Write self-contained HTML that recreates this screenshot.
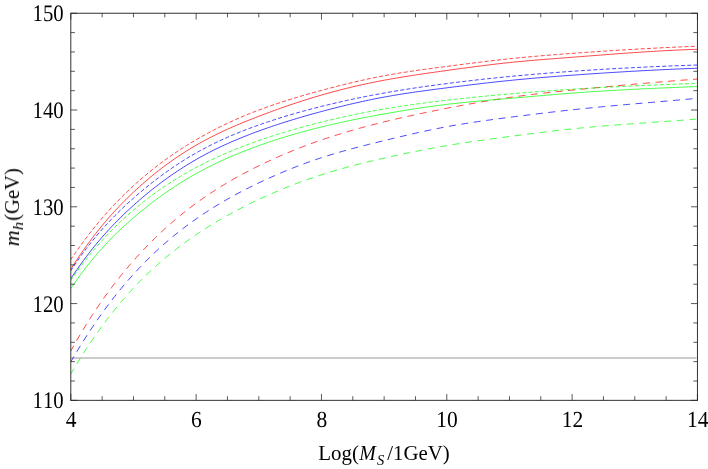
<!DOCTYPE html>
<html><head><meta charset="utf-8"><title>plot</title>
<style>
html,body{margin:0;padding:0;background:#fff;}
body{width:708px;height:469px;overflow:hidden;font-family:"Liberation Serif",serif;}
svg{display:block;}
text{font-family:"Liberation Serif",serif;font-size:21.5px;fill:#000;font-kerning:none;}
.it{font-style:italic;}
</style></head><body>
<svg width="708" height="469" viewBox="0 0 708 469">
<rect x="0" y="0" width="708" height="469" fill="#ffffff"/>
<defs><clipPath id="c"><rect x="70.8" y="13.25" width="626.6500000000001" height="387.1"/></clipPath></defs>
<line x1="70.8" y1="357.9" x2="696.45" y2="357.9" stroke="#999999" stroke-width="1.05"/>
<g fill="none" stroke-width="0.72" clip-path="url(#c)">
<path d="M70.80 373.90 L73.93 368.63 L77.07 363.47 L80.20 358.42 L83.33 353.48 L86.47 348.65 L89.60 343.92 L92.73 339.30 L95.87 334.78 L99.00 330.36 L102.13 326.04 L105.27 321.82 L108.40 317.70 L111.53 313.67 L114.67 309.74 L117.80 305.90 L120.93 302.15 L124.07 298.49 L127.20 294.92 L130.33 291.43 L133.47 288.03 L136.60 284.72 L139.73 281.48 L142.86 278.33 L146.00 275.25 L149.13 272.25 L152.26 269.32 L155.40 266.46 L158.53 263.67 L161.66 260.94 L164.80 258.28 L167.93 255.69 L171.06 253.15 L174.20 250.67 L177.33 248.24 L180.46 245.87 L183.60 243.55 L186.73 241.28 L189.86 239.06 L193.00 236.88 L196.13 234.74 L199.26 232.65 L202.40 230.59 L205.53 228.57 L208.66 226.59 L211.80 224.65 L214.93 222.75 L218.06 220.88 L221.20 219.04 L224.33 217.24 L227.46 215.47 L230.60 213.74 L233.73 212.03 L236.86 210.36 L240.00 208.71 L243.13 207.10 L246.26 205.51 L249.40 203.96 L252.53 202.42 L255.66 200.92 L258.80 199.44 L261.93 197.98 L265.06 196.55 L268.19 195.14 L271.33 193.75 L274.46 192.39 L277.59 191.06 L280.73 189.74 L283.86 188.45 L286.99 187.19 L290.13 185.94 L293.26 184.72 L296.39 183.53 L299.53 182.35 L302.66 181.20 L305.79 180.07 L308.93 178.97 L312.06 177.89 L315.19 176.83 L318.33 175.79 L321.46 174.77 L324.59 173.78 L327.73 172.81 L330.86 171.86 L333.99 170.92 L337.13 170.01 L340.26 169.12 L343.39 168.24 L346.53 167.38 L349.66 166.54 L352.79 165.71 L355.93 164.90 L359.06 164.10 L362.19 163.32 L365.33 162.54 L368.46 161.78 L371.59 161.03 L374.73 160.29 L377.86 159.56 L380.99 158.84 L384.13 158.12 L387.26 157.41 L390.39 156.72 L393.52 156.02 L396.66 155.34 L399.79 154.66 L402.92 154.00 L406.06 153.34 L409.19 152.69 L412.32 152.04 L415.46 151.41 L418.59 150.79 L421.72 150.17 L424.86 149.56 L427.99 148.97 L431.12 148.38 L434.26 147.81 L437.39 147.24 L440.52 146.68 L443.66 146.14 L446.79 145.61 L449.92 145.08 L453.06 144.57 L456.19 144.07 L459.32 143.57 L462.46 143.09 L465.59 142.61 L468.72 142.14 L471.86 141.68 L474.99 141.23 L478.12 140.78 L481.26 140.33 L484.39 139.90 L487.52 139.47 L490.66 139.04 L493.79 138.61 L496.92 138.19 L500.06 137.77 L503.19 137.36 L506.32 136.94 L509.46 136.53 L512.59 136.12 L515.72 135.71 L518.85 135.30 L521.99 134.89 L525.12 134.48 L528.25 134.08 L531.39 133.68 L534.52 133.28 L537.65 132.89 L540.79 132.50 L543.92 132.11 L547.05 131.73 L550.19 131.36 L553.32 130.99 L556.45 130.62 L559.59 130.26 L562.72 129.91 L565.85 129.57 L568.99 129.23 L572.12 128.90 L575.25 128.58 L578.39 128.26 L581.52 127.95 L584.65 127.66 L587.79 127.36 L590.92 127.08 L594.05 126.80 L597.19 126.52 L600.32 126.25 L603.45 125.99 L606.59 125.73 L609.72 125.48 L612.85 125.23 L615.99 124.99 L619.12 124.74 L622.25 124.51 L625.39 124.27 L628.52 124.04 L631.65 123.81 L634.78 123.59 L637.92 123.36 L641.05 123.14 L644.18 122.92 L647.32 122.70 L650.45 122.48 L653.58 122.26 L656.72 122.04 L659.85 121.82 L662.98 121.60 L666.12 121.38 L669.25 121.16 L672.38 120.93 L675.52 120.71 L678.65 120.48 L681.78 120.25 L684.92 120.02 L688.05 119.79 L691.18 119.55 L694.32 119.31 L697.45 119.06" stroke="#00ff00" stroke-dasharray="7.0 5.536" stroke-dashoffset="0.9"/>
<path d="M70.80 361.80 L73.93 356.44 L77.07 351.20 L80.20 346.07 L83.33 341.05 L86.47 336.14 L89.60 331.33 L92.73 326.63 L95.87 322.04 L99.00 317.54 L102.13 313.15 L105.27 308.85 L108.40 304.65 L111.53 300.54 L114.67 296.52 L117.80 292.60 L120.93 288.77 L124.07 285.02 L127.20 281.35 L130.33 277.78 L133.47 274.28 L136.60 270.86 L139.73 267.52 L142.86 264.26 L146.00 261.08 L149.13 257.96 L152.26 254.92 L155.40 251.95 L158.53 249.05 L161.66 246.21 L164.80 243.44 L167.93 240.73 L171.06 238.08 L174.20 235.50 L177.33 232.97 L180.46 230.50 L183.60 228.08 L186.73 225.72 L189.86 223.41 L193.00 221.14 L196.13 218.93 L199.26 216.76 L202.40 214.64 L205.53 212.56 L208.66 210.53 L211.80 208.53 L214.93 206.58 L218.06 204.67 L221.20 202.79 L224.33 200.95 L227.46 199.15 L230.60 197.39 L233.73 195.65 L236.86 193.95 L240.00 192.28 L243.13 190.65 L246.26 189.04 L249.40 187.46 L252.53 185.90 L255.66 184.37 L258.80 182.87 L261.93 181.39 L265.06 179.93 L268.19 178.49 L271.33 177.08 L274.46 175.70 L277.59 174.33 L280.73 172.99 L283.86 171.67 L286.99 170.38 L290.13 169.11 L293.26 167.86 L296.39 166.64 L299.53 165.44 L302.66 164.27 L305.79 163.11 L308.93 161.99 L312.06 160.88 L315.19 159.80 L318.33 158.74 L321.46 157.71 L324.59 156.70 L327.73 155.71 L330.86 154.75 L333.99 153.80 L337.13 152.88 L340.26 151.97 L343.39 151.08 L346.53 150.21 L349.66 149.35 L352.79 148.51 L355.93 147.67 L359.06 146.86 L362.19 146.05 L365.33 145.25 L368.46 144.46 L371.59 143.68 L374.73 142.90 L377.86 142.13 L380.99 141.36 L384.13 140.60 L387.26 139.84 L390.39 139.08 L393.52 138.33 L396.66 137.58 L399.79 136.83 L402.92 136.10 L406.06 135.36 L409.19 134.64 L412.32 133.92 L415.46 133.21 L418.59 132.51 L421.72 131.82 L424.86 131.14 L427.99 130.47 L431.12 129.81 L434.26 129.17 L437.39 128.54 L440.52 127.92 L443.66 127.32 L446.79 126.73 L449.92 126.16 L453.06 125.60 L456.19 125.06 L459.32 124.53 L462.46 124.01 L465.59 123.51 L468.72 123.01 L471.86 122.53 L474.99 122.06 L478.12 121.60 L481.26 121.15 L484.39 120.70 L487.52 120.26 L490.66 119.83 L493.79 119.41 L496.92 118.99 L500.06 118.58 L503.19 118.16 L506.32 117.76 L509.46 117.35 L512.59 116.95 L515.72 116.54 L518.85 116.14 L521.99 115.75 L525.12 115.35 L528.25 114.96 L531.39 114.57 L534.52 114.18 L537.65 113.79 L540.79 113.41 L543.92 113.03 L547.05 112.66 L550.19 112.29 L553.32 111.92 L556.45 111.56 L559.59 111.20 L562.72 110.84 L565.85 110.49 L568.99 110.15 L572.12 109.81 L575.25 109.47 L578.39 109.14 L581.52 108.82 L584.65 108.50 L587.79 108.18 L590.92 107.87 L594.05 107.56 L597.19 107.25 L600.32 106.95 L603.45 106.65 L606.59 106.36 L609.72 106.07 L612.85 105.78 L615.99 105.49 L619.12 105.21 L622.25 104.93 L625.39 104.65 L628.52 104.37 L631.65 104.09 L634.78 103.82 L637.92 103.55 L641.05 103.27 L644.18 103.00 L647.32 102.73 L650.45 102.46 L653.58 102.19 L656.72 101.92 L659.85 101.65 L662.98 101.38 L666.12 101.11 L669.25 100.84 L672.38 100.56 L675.52 100.29 L678.65 100.02 L681.78 99.74 L684.92 99.46 L688.05 99.18 L691.18 98.90 L694.32 98.62 L697.45 98.33" stroke="#0000ff" stroke-dasharray="7.0 5.536" stroke-dashoffset="0.9"/>
<path d="M70.80 350.96 L73.93 345.35 L77.07 339.88 L80.20 334.53 L83.33 329.32 L86.47 324.22 L89.60 319.25 L92.73 314.40 L95.87 309.66 L99.00 305.04 L102.13 300.52 L105.27 296.11 L108.40 291.81 L111.53 287.60 L114.67 283.49 L117.80 279.48 L120.93 275.56 L124.07 271.72 L127.20 267.98 L130.33 264.31 L133.47 260.72 L136.60 257.22 L139.73 253.78 L142.86 250.42 L146.00 247.13 L149.13 243.91 L152.26 240.76 L155.40 237.68 L158.53 234.67 L161.66 231.72 L164.80 228.84 L167.93 226.02 L171.06 223.26 L174.20 220.56 L177.33 217.92 L180.46 215.34 L183.60 212.81 L186.73 210.34 L189.86 207.92 L193.00 205.56 L196.13 203.24 L199.26 200.98 L202.40 198.76 L205.53 196.59 L208.66 194.47 L211.80 192.39 L214.93 190.36 L218.06 188.37 L221.20 186.42 L224.33 184.51 L227.46 182.63 L230.60 180.80 L233.73 179.00 L236.86 177.24 L240.00 175.52 L243.13 173.82 L246.26 172.16 L249.40 170.53 L252.53 168.93 L255.66 167.36 L258.80 165.81 L261.93 164.29 L265.06 162.80 L268.19 161.33 L271.33 159.89 L274.46 158.47 L277.59 157.08 L280.73 155.71 L283.86 154.36 L286.99 153.04 L290.13 151.74 L293.26 150.47 L296.39 149.21 L299.53 147.98 L302.66 146.78 L305.79 145.59 L308.93 144.42 L312.06 143.28 L315.19 142.16 L318.33 141.05 L321.46 139.97 L324.59 138.91 L327.73 137.87 L330.86 136.84 L333.99 135.84 L337.13 134.85 L340.26 133.88 L343.39 132.92 L346.53 131.99 L349.66 131.07 L352.79 130.16 L355.93 129.27 L359.06 128.40 L362.19 127.54 L365.33 126.69 L368.46 125.86 L371.59 125.04 L374.73 124.23 L377.86 123.44 L380.99 122.65 L384.13 121.88 L387.26 121.12 L390.39 120.37 L393.52 119.62 L396.66 118.89 L399.79 118.17 L402.92 117.46 L406.06 116.75 L409.19 116.06 L412.32 115.37 L415.46 114.69 L418.59 114.02 L421.72 113.36 L424.86 112.70 L427.99 112.05 L431.12 111.41 L434.26 110.78 L437.39 110.15 L440.52 109.52 L443.66 108.90 L446.79 108.29 L449.92 107.68 L453.06 107.08 L456.19 106.48 L459.32 105.89 L462.46 105.31 L465.59 104.73 L468.72 104.15 L471.86 103.59 L474.99 103.03 L478.12 102.48 L481.26 101.94 L484.39 101.41 L487.52 100.88 L490.66 100.37 L493.79 99.86 L496.92 99.36 L500.06 98.88 L503.19 98.40 L506.32 97.93 L509.46 97.48 L512.59 97.03 L515.72 96.60 L518.85 96.18 L521.99 95.77 L525.12 95.36 L528.25 94.97 L531.39 94.58 L534.52 94.20 L537.65 93.83 L540.79 93.47 L543.92 93.11 L547.05 92.76 L550.19 92.42 L553.32 92.08 L556.45 91.74 L559.59 91.41 L562.72 91.08 L565.85 90.76 L568.99 90.44 L572.12 90.12 L575.25 89.80 L578.39 89.48 L581.52 89.17 L584.65 88.86 L587.79 88.55 L590.92 88.24 L594.05 87.93 L597.19 87.63 L600.32 87.33 L603.45 87.03 L606.59 86.73 L609.72 86.43 L612.85 86.14 L615.99 85.85 L619.12 85.56 L622.25 85.27 L625.39 84.98 L628.52 84.70 L631.65 84.42 L634.78 84.14 L637.92 83.86 L641.05 83.59 L644.18 83.31 L647.32 83.04 L650.45 82.78 L653.58 82.51 L656.72 82.25 L659.85 81.99 L662.98 81.73 L666.12 81.47 L669.25 81.22 L672.38 80.97 L675.52 80.72 L678.65 80.47 L681.78 80.23 L684.92 79.99 L688.05 79.75 L691.18 79.51 L694.32 79.28 L697.45 79.05" stroke="#ff0000" stroke-dasharray="7.0 5.536" stroke-dashoffset="0.9"/>
<path d="M70.80 288.59 L73.93 283.97 L77.07 279.49 L80.20 275.15 L83.33 270.94 L86.47 266.85 L89.60 262.89 L92.73 259.05 L95.87 255.32 L99.00 251.70 L102.13 248.18 L105.27 244.77 L108.40 241.45 L111.53 238.21 L114.67 235.07 L117.80 232.01 L120.93 229.02 L124.07 226.10 L127.20 223.25 L130.33 220.47 L133.47 217.74 L136.60 215.07 L139.73 212.44 L142.86 209.87 L146.00 207.35 L149.13 204.89 L152.26 202.47 L155.40 200.10 L158.53 197.78 L161.66 195.51 L164.80 193.28 L167.93 191.11 L171.06 188.98 L174.20 186.90 L177.33 184.86 L180.46 182.87 L183.60 180.93 L186.73 179.03 L189.86 177.17 L193.00 175.36 L196.13 173.59 L199.26 171.86 L202.40 170.17 L205.53 168.53 L208.66 166.92 L211.80 165.35 L214.93 163.82 L218.06 162.33 L221.20 160.87 L224.33 159.44 L227.46 158.04 L230.60 156.68 L233.73 155.35 L236.86 154.04 L240.00 152.77 L243.13 151.52 L246.26 150.30 L249.40 149.10 L252.53 147.93 L255.66 146.77 L258.80 145.64 L261.93 144.53 L265.06 143.44 L268.19 142.37 L271.33 141.32 L274.46 140.29 L277.59 139.28 L280.73 138.28 L283.86 137.31 L286.99 136.35 L290.13 135.41 L293.26 134.49 L296.39 133.59 L299.53 132.70 L302.66 131.83 L305.79 130.97 L308.93 130.13 L312.06 129.31 L315.19 128.50 L318.33 127.71 L321.46 126.94 L324.59 126.18 L327.73 125.43 L330.86 124.70 L333.99 123.98 L337.13 123.27 L340.26 122.58 L343.39 121.89 L346.53 121.22 L349.66 120.57 L352.79 119.92 L355.93 119.28 L359.06 118.66 L362.19 118.04 L365.33 117.43 L368.46 116.83 L371.59 116.24 L374.73 115.66 L377.86 115.08 L380.99 114.51 L384.13 113.95 L387.26 113.39 L390.39 112.84 L393.52 112.30 L396.66 111.76 L399.79 111.23 L402.92 110.71 L406.06 110.20 L409.19 109.69 L412.32 109.20 L415.46 108.71 L418.59 108.23 L421.72 107.76 L424.86 107.31 L427.99 106.86 L431.12 106.42 L434.26 105.99 L437.39 105.58 L440.52 105.17 L443.66 104.78 L446.79 104.40 L449.92 104.03 L453.06 103.67 L456.19 103.32 L459.32 102.98 L462.46 102.66 L465.59 102.34 L468.72 102.03 L471.86 101.73 L474.99 101.43 L478.12 101.14 L481.26 100.86 L484.39 100.58 L487.52 100.30 L490.66 100.03 L493.79 99.76 L496.92 99.49 L500.06 99.22 L503.19 98.95 L506.32 98.69 L509.46 98.42 L512.59 98.15 L515.72 97.87 L518.85 97.60 L521.99 97.33 L525.12 97.05 L528.25 96.78 L531.39 96.50 L534.52 96.23 L537.65 95.96 L540.79 95.69 L543.92 95.42 L547.05 95.15 L550.19 94.88 L553.32 94.62 L556.45 94.36 L559.59 94.10 L562.72 93.85 L565.85 93.60 L568.99 93.36 L572.12 93.12 L575.25 92.89 L578.39 92.66 L581.52 92.43 L584.65 92.22 L587.79 92.00 L590.92 91.79 L594.05 91.59 L597.19 91.39 L600.32 91.19 L603.45 91.00 L606.59 90.81 L609.72 90.62 L612.85 90.44 L615.99 90.27 L619.12 90.09 L622.25 89.92 L625.39 89.75 L628.52 89.59 L631.65 89.43 L634.78 89.27 L637.92 89.12 L641.05 88.96 L644.18 88.81 L647.32 88.66 L650.45 88.52 L653.58 88.38 L656.72 88.23 L659.85 88.09 L662.98 87.96 L666.12 87.82 L669.25 87.69 L672.38 87.55 L675.52 87.42 L678.65 87.29 L681.78 87.16 L684.92 87.03 L688.05 86.90 L691.18 86.78 L694.32 86.65 L697.45 86.52" stroke="#00ff00"/>
<path d="M70.80 280.37 L73.93 275.85 L77.07 271.45 L80.20 267.18 L83.33 263.03 L86.47 258.99 L89.60 255.07 L92.73 251.25 L95.87 247.54 L99.00 243.94 L102.13 240.43 L105.27 237.02 L108.40 233.71 L111.53 230.48 L114.67 227.33 L117.80 224.27 L120.93 221.29 L124.07 218.39 L127.20 215.55 L130.33 212.79 L133.47 210.08 L136.60 207.45 L139.73 204.87 L142.86 202.35 L146.00 199.89 L149.13 197.48 L152.26 195.13 L155.40 192.84 L158.53 190.60 L161.66 188.41 L164.80 186.27 L167.93 184.19 L171.06 182.15 L174.20 180.16 L177.33 178.22 L180.46 176.32 L183.60 174.47 L186.73 172.66 L189.86 170.89 L193.00 169.17 L196.13 167.48 L199.26 165.83 L202.40 164.23 L205.53 162.66 L208.66 161.12 L211.80 159.62 L214.93 158.15 L218.06 156.72 L221.20 155.32 L224.33 153.95 L227.46 152.60 L230.60 151.29 L233.73 150.01 L236.86 148.75 L240.00 147.52 L243.13 146.31 L246.26 145.12 L249.40 143.96 L252.53 142.82 L255.66 141.70 L258.80 140.60 L261.93 139.52 L265.06 138.46 L268.19 137.41 L271.33 136.38 L274.46 135.37 L277.59 134.38 L280.73 133.40 L283.86 132.44 L286.99 131.49 L290.13 130.56 L293.26 129.65 L296.39 128.75 L299.53 127.87 L302.66 127.00 L305.79 126.15 L308.93 125.31 L312.06 124.48 L315.19 123.67 L318.33 122.87 L321.46 122.09 L324.59 121.31 L327.73 120.55 L330.86 119.81 L333.99 119.07 L337.13 118.35 L340.26 117.64 L343.39 116.95 L346.53 116.26 L349.66 115.59 L352.79 114.93 L355.93 114.28 L359.06 113.65 L362.19 113.02 L365.33 112.41 L368.46 111.82 L371.59 111.23 L374.73 110.65 L377.86 110.09 L380.99 109.54 L384.13 109.00 L387.26 108.47 L390.39 107.95 L393.52 107.45 L396.66 106.95 L399.79 106.47 L402.92 105.99 L406.06 105.53 L409.19 105.07 L412.32 104.63 L415.46 104.19 L418.59 103.76 L421.72 103.34 L424.86 102.93 L427.99 102.52 L431.12 102.12 L434.26 101.73 L437.39 101.35 L440.52 100.97 L443.66 100.60 L446.79 100.23 L449.92 99.87 L453.06 99.52 L456.19 99.17 L459.32 98.83 L462.46 98.49 L465.59 98.15 L468.72 97.83 L471.86 97.50 L474.99 97.18 L478.12 96.87 L481.26 96.56 L484.39 96.25 L487.52 95.95 L490.66 95.65 L493.79 95.36 L496.92 95.07 L500.06 94.79 L503.19 94.51 L506.32 94.23 L509.46 93.96 L512.59 93.69 L515.72 93.42 L518.85 93.16 L521.99 92.90 L525.12 92.65 L528.25 92.39 L531.39 92.15 L534.52 91.90 L537.65 91.66 L540.79 91.42 L543.92 91.19 L547.05 90.96 L550.19 90.74 L553.32 90.51 L556.45 90.29 L559.59 90.08 L562.72 89.87 L565.85 89.66 L568.99 89.45 L572.12 89.25 L575.25 89.05 L578.39 88.86 L581.52 88.67 L584.65 88.48 L587.79 88.30 L590.92 88.12 L594.05 87.94 L597.19 87.77 L600.32 87.59 L603.45 87.43 L606.59 87.26 L609.72 87.10 L612.85 86.94 L615.99 86.78 L619.12 86.62 L622.25 86.47 L625.39 86.32 L628.52 86.17 L631.65 86.02 L634.78 85.88 L637.92 85.74 L641.05 85.60 L644.18 85.46 L647.32 85.32 L650.45 85.19 L653.58 85.06 L656.72 84.93 L659.85 84.80 L662.98 84.67 L666.12 84.54 L669.25 84.42 L672.38 84.29 L675.52 84.17 L678.65 84.05 L681.78 83.93 L684.92 83.81 L688.05 83.69 L691.18 83.57 L694.32 83.45 L697.45 83.33" stroke="#00ff00" stroke-dasharray="4.1 2.168" stroke-dashoffset="0.6"/>
<path d="M70.80 278.72 L73.93 274.00 L77.07 269.42 L80.20 264.96 L83.33 260.64 L86.47 256.44 L89.60 252.36 L92.73 248.39 L95.87 244.53 L99.00 240.78 L102.13 237.13 L105.27 233.58 L108.40 230.12 L111.53 226.75 L114.67 223.47 L117.80 220.27 L120.93 217.15 L124.07 214.10 L127.20 211.12 L130.33 208.21 L133.47 205.36 L136.60 202.57 L139.73 199.83 L142.86 197.15 L146.00 194.52 L149.13 191.95 L152.26 189.43 L155.40 186.97 L158.53 184.55 L161.66 182.19 L164.80 179.89 L167.93 177.63 L171.06 175.42 L174.20 173.27 L177.33 171.16 L180.46 169.11 L183.60 167.10 L186.73 165.14 L189.86 163.22 L193.00 161.36 L196.13 159.54 L199.26 157.76 L202.40 156.03 L205.53 154.34 L208.66 152.70 L211.80 151.09 L214.93 149.53 L218.06 148.00 L221.20 146.51 L224.33 145.05 L227.46 143.63 L230.60 142.24 L233.73 140.89 L236.86 139.56 L240.00 138.26 L243.13 136.99 L246.26 135.75 L249.40 134.53 L252.53 133.34 L255.66 132.17 L258.80 131.01 L261.93 129.88 L265.06 128.77 L268.19 127.68 L271.33 126.61 L274.46 125.55 L277.59 124.51 L280.73 123.49 L283.86 122.48 L286.99 121.50 L290.13 120.52 L293.26 119.56 L296.39 118.62 L299.53 117.69 L302.66 116.77 L305.79 115.86 L308.93 114.97 L312.06 114.09 L315.19 113.22 L318.33 112.36 L321.46 111.52 L324.59 110.68 L327.73 109.85 L330.86 109.03 L333.99 108.23 L337.13 107.43 L340.26 106.65 L343.39 105.88 L346.53 105.12 L349.66 104.37 L352.79 103.64 L355.93 102.92 L359.06 102.21 L362.19 101.52 L365.33 100.84 L368.46 100.18 L371.59 99.53 L374.73 98.89 L377.86 98.28 L380.99 97.67 L384.13 97.09 L387.26 96.52 L390.39 95.96 L393.52 95.42 L396.66 94.90 L399.79 94.39 L402.92 93.89 L406.06 93.40 L409.19 92.93 L412.32 92.46 L415.46 92.01 L418.59 91.56 L421.72 91.12 L424.86 90.69 L427.99 90.27 L431.12 89.85 L434.26 89.44 L437.39 89.03 L440.52 88.63 L443.66 88.23 L446.79 87.83 L449.92 87.43 L453.06 87.03 L456.19 86.64 L459.32 86.25 L462.46 85.86 L465.59 85.47 L468.72 85.09 L471.86 84.71 L474.99 84.33 L478.12 83.96 L481.26 83.59 L484.39 83.23 L487.52 82.87 L490.66 82.51 L493.79 82.16 L496.92 81.82 L500.06 81.48 L503.19 81.14 L506.32 80.82 L509.46 80.50 L512.59 80.18 L515.72 79.87 L518.85 79.57 L521.99 79.28 L525.12 78.99 L528.25 78.70 L531.39 78.43 L534.52 78.15 L537.65 77.89 L540.79 77.62 L543.92 77.36 L547.05 77.11 L550.19 76.86 L553.32 76.61 L556.45 76.37 L559.59 76.13 L562.72 75.89 L565.85 75.66 L568.99 75.43 L572.12 75.20 L575.25 74.98 L578.39 74.75 L581.52 74.53 L584.65 74.31 L587.79 74.10 L590.92 73.88 L594.05 73.67 L597.19 73.46 L600.32 73.25 L603.45 73.05 L606.59 72.85 L609.72 72.65 L612.85 72.45 L615.99 72.26 L619.12 72.07 L622.25 71.88 L625.39 71.69 L628.52 71.51 L631.65 71.33 L634.78 71.15 L637.92 70.98 L641.05 70.81 L644.18 70.64 L647.32 70.47 L650.45 70.31 L653.58 70.14 L656.72 69.99 L659.85 69.83 L662.98 69.68 L666.12 69.53 L669.25 69.39 L672.38 69.24 L675.52 69.10 L678.65 68.97 L681.78 68.83 L684.92 68.70 L688.05 68.58 L691.18 68.45 L694.32 68.33 L697.45 68.21" stroke="#0000ff"/>
<path d="M70.80 270.70 L73.93 265.95 L77.07 261.35 L80.20 256.89 L83.33 252.58 L86.47 248.39 L89.60 244.34 L92.73 240.40 L95.87 236.59 L99.00 232.88 L102.13 229.29 L105.27 225.80 L108.40 222.41 L111.53 219.10 L114.67 215.89 L117.80 212.76 L120.93 209.71 L124.07 206.73 L127.20 203.82 L130.33 200.97 L133.47 198.18 L136.60 195.44 L139.73 192.76 L142.86 190.12 L146.00 187.54 L149.13 185.01 L152.26 182.52 L155.40 180.09 L158.53 177.71 L161.66 175.38 L164.80 173.10 L167.93 170.86 L171.06 168.68 L174.20 166.55 L177.33 164.46 L180.46 162.42 L183.60 160.43 L186.73 158.49 L189.86 156.59 L193.00 154.75 L196.13 152.95 L199.26 151.19 L202.40 149.48 L205.53 147.82 L208.66 146.20 L211.80 144.62 L214.93 143.08 L218.06 141.58 L221.20 140.12 L224.33 138.69 L227.46 137.30 L230.60 135.94 L233.73 134.61 L236.86 133.32 L240.00 132.05 L243.13 130.81 L246.26 129.60 L249.40 128.42 L252.53 127.26 L255.66 126.12 L258.80 125.00 L261.93 123.91 L265.06 122.83 L268.19 121.78 L271.33 120.74 L274.46 119.72 L277.59 118.72 L280.73 117.74 L283.86 116.77 L286.99 115.82 L290.13 114.89 L293.26 113.98 L296.39 113.08 L299.53 112.19 L302.66 111.32 L305.79 110.47 L308.93 109.63 L312.06 108.80 L315.19 107.99 L318.33 107.18 L321.46 106.39 L324.59 105.62 L327.73 104.85 L330.86 104.10 L333.99 103.36 L337.13 102.63 L340.26 101.91 L343.39 101.20 L346.53 100.50 L349.66 99.82 L352.79 99.15 L355.93 98.48 L359.06 97.83 L362.19 97.19 L365.33 96.57 L368.46 95.95 L371.59 95.34 L374.73 94.74 L377.86 94.16 L380.99 93.58 L384.13 93.02 L387.26 92.46 L390.39 91.92 L393.52 91.38 L396.66 90.86 L399.79 90.35 L402.92 89.84 L406.06 89.34 L409.19 88.85 L412.32 88.37 L415.46 87.90 L418.59 87.44 L421.72 86.98 L424.86 86.53 L427.99 86.09 L431.12 85.65 L434.26 85.22 L437.39 84.80 L440.52 84.38 L443.66 83.97 L446.79 83.57 L449.92 83.17 L453.06 82.77 L456.19 82.38 L459.32 82.00 L462.46 81.62 L465.59 81.24 L468.72 80.87 L471.86 80.51 L474.99 80.15 L478.12 79.80 L481.26 79.45 L484.39 79.10 L487.52 78.76 L490.66 78.43 L493.79 78.10 L496.92 77.77 L500.06 77.45 L503.19 77.14 L506.32 76.83 L509.46 76.52 L512.59 76.22 L515.72 75.93 L518.85 75.63 L521.99 75.35 L525.12 75.06 L528.25 74.79 L531.39 74.51 L534.52 74.24 L537.65 73.98 L540.79 73.72 L543.92 73.46 L547.05 73.21 L550.19 72.96 L553.32 72.71 L556.45 72.47 L559.59 72.23 L562.72 72.00 L565.85 71.77 L568.99 71.54 L572.12 71.32 L575.25 71.10 L578.39 70.89 L581.52 70.67 L584.65 70.46 L587.79 70.26 L590.92 70.06 L594.05 69.86 L597.19 69.66 L600.32 69.47 L603.45 69.28 L606.59 69.09 L609.72 68.91 L612.85 68.73 L615.99 68.55 L619.12 68.38 L622.25 68.21 L625.39 68.04 L628.52 67.88 L631.65 67.72 L634.78 67.56 L637.92 67.41 L641.05 67.25 L644.18 67.11 L647.32 66.96 L650.45 66.82 L653.58 66.68 L656.72 66.54 L659.85 66.41 L662.98 66.27 L666.12 66.15 L669.25 66.02 L672.38 65.90 L675.52 65.78 L678.65 65.66 L681.78 65.55 L684.92 65.44 L688.05 65.33 L691.18 65.22 L694.32 65.12 L697.45 65.02" stroke="#0000ff" stroke-dasharray="4.1 2.168" stroke-dashoffset="0.6"/>
<path d="M70.80 269.13 L73.93 264.22 L77.07 259.44 L80.20 254.79 L83.33 250.27 L86.47 245.87 L89.60 241.59 L92.73 237.42 L95.87 233.37 L99.00 229.43 L102.13 225.59 L105.27 221.85 L108.40 218.21 L111.53 214.67 L114.67 211.22 L117.80 207.85 L120.93 204.57 L124.07 201.36 L127.20 198.24 L130.33 195.19 L133.47 192.20 L136.60 189.29 L139.73 186.43 L142.86 183.65 L146.00 180.92 L149.13 178.26 L152.26 175.66 L155.40 173.12 L158.53 170.64 L161.66 168.21 L164.80 165.85 L167.93 163.54 L171.06 161.29 L174.20 159.09 L177.33 156.95 L180.46 154.86 L183.60 152.83 L186.73 150.84 L189.86 148.91 L193.00 147.03 L196.13 145.19 L199.26 143.41 L202.40 141.67 L205.53 139.98 L208.66 138.33 L211.80 136.72 L214.93 135.15 L218.06 133.62 L221.20 132.12 L224.33 130.66 L227.46 129.22 L230.60 127.82 L233.73 126.45 L236.86 125.11 L240.00 123.79 L243.13 122.49 L246.26 121.21 L249.40 119.96 L252.53 118.72 L255.66 117.50 L258.80 116.29 L261.93 115.09 L265.06 113.91 L268.19 112.74 L271.33 111.58 L274.46 110.44 L277.59 109.30 L280.73 108.19 L283.86 107.08 L286.99 106.00 L290.13 104.92 L293.26 103.86 L296.39 102.82 L299.53 101.79 L302.66 100.77 L305.79 99.78 L308.93 98.80 L312.06 97.83 L315.19 96.88 L318.33 95.95 L321.46 95.04 L324.59 94.14 L327.73 93.26 L330.86 92.40 L333.99 91.55 L337.13 90.73 L340.26 89.91 L343.39 89.12 L346.53 88.34 L349.66 87.58 L352.79 86.83 L355.93 86.10 L359.06 85.39 L362.19 84.69 L365.33 84.01 L368.46 83.34 L371.59 82.69 L374.73 82.05 L377.86 81.43 L380.99 80.82 L384.13 80.23 L387.26 79.65 L390.39 79.08 L393.52 78.53 L396.66 77.99 L399.79 77.46 L402.92 76.95 L406.06 76.44 L409.19 75.94 L412.32 75.46 L415.46 74.98 L418.59 74.51 L421.72 74.04 L424.86 73.58 L427.99 73.13 L431.12 72.68 L434.26 72.24 L437.39 71.80 L440.52 71.36 L443.66 70.92 L446.79 70.49 L449.92 70.06 L453.06 69.62 L456.19 69.19 L459.32 68.76 L462.46 68.34 L465.59 67.92 L468.72 67.50 L471.86 67.08 L474.99 66.67 L478.12 66.26 L481.26 65.86 L484.39 65.47 L487.52 65.08 L490.66 64.70 L493.79 64.32 L496.92 63.95 L500.06 63.59 L503.19 63.24 L506.32 62.90 L509.46 62.57 L512.59 62.24 L515.72 61.93 L518.85 61.63 L521.99 61.33 L525.12 61.04 L528.25 60.76 L531.39 60.49 L534.52 60.22 L537.65 59.96 L540.79 59.70 L543.92 59.45 L547.05 59.20 L550.19 58.95 L553.32 58.71 L556.45 58.47 L559.59 58.23 L562.72 57.99 L565.85 57.75 L568.99 57.51 L572.12 57.27 L575.25 57.03 L578.39 56.79 L581.52 56.55 L584.65 56.30 L587.79 56.06 L590.92 55.82 L594.05 55.57 L597.19 55.33 L600.32 55.09 L603.45 54.85 L606.59 54.61 L609.72 54.37 L612.85 54.13 L615.99 53.90 L619.12 53.66 L622.25 53.43 L625.39 53.21 L628.52 52.98 L631.65 52.76 L634.78 52.54 L637.92 52.33 L641.05 52.12 L644.18 51.92 L647.32 51.71 L650.45 51.52 L653.58 51.33 L656.72 51.14 L659.85 50.96 L662.98 50.79 L666.12 50.62 L669.25 50.45 L672.38 50.30 L675.52 50.15 L678.65 50.01 L681.78 49.87 L684.92 49.75 L688.05 49.63 L691.18 49.51 L694.32 49.41 L697.45 49.32" stroke="#ff0000"/>
<path d="M70.80 259.52 L73.93 254.90 L77.07 250.40 L80.20 246.01 L83.33 241.72 L86.47 237.54 L89.60 233.47 L92.73 229.49 L95.87 225.61 L99.00 221.83 L102.13 218.14 L105.27 214.54 L108.40 211.02 L111.53 207.60 L114.67 204.25 L117.80 200.99 L120.93 197.80 L124.07 194.69 L127.20 191.65 L130.33 188.69 L133.47 185.79 L136.60 182.96 L139.73 180.19 L142.86 177.48 L146.00 174.84 L149.13 172.25 L152.26 169.72 L155.40 167.26 L158.53 164.84 L161.66 162.48 L164.80 160.18 L167.93 157.93 L171.06 155.72 L174.20 153.57 L177.33 151.47 L180.46 149.41 L183.60 147.39 L186.73 145.42 L189.86 143.50 L193.00 141.61 L196.13 139.76 L199.26 137.96 L202.40 136.19 L205.53 134.45 L208.66 132.76 L211.80 131.10 L214.93 129.47 L218.06 127.88 L221.20 126.33 L224.33 124.81 L227.46 123.32 L230.60 121.86 L233.73 120.43 L236.86 119.04 L240.00 117.68 L243.13 116.34 L246.26 115.03 L249.40 113.76 L252.53 112.51 L255.66 111.28 L258.80 110.09 L261.93 108.92 L265.06 107.77 L268.19 106.65 L271.33 105.55 L274.46 104.47 L277.59 103.42 L280.73 102.39 L283.86 101.37 L286.99 100.37 L290.13 99.40 L293.26 98.43 L296.39 97.49 L299.53 96.56 L302.66 95.64 L305.79 94.74 L308.93 93.85 L312.06 92.97 L315.19 92.10 L318.33 91.25 L321.46 90.40 L324.59 89.55 L327.73 88.72 L330.86 87.90 L333.99 87.09 L337.13 86.28 L340.26 85.49 L343.39 84.71 L346.53 83.94 L349.66 83.18 L352.79 82.43 L355.93 81.70 L359.06 80.98 L362.19 80.27 L365.33 79.58 L368.46 78.91 L371.59 78.25 L374.73 77.60 L377.86 76.97 L380.99 76.36 L384.13 75.77 L387.26 75.19 L390.39 74.63 L393.52 74.08 L396.66 73.56 L399.79 73.04 L402.92 72.54 L406.06 72.05 L409.19 71.57 L412.32 71.10 L415.46 70.65 L418.59 70.20 L421.72 69.76 L424.86 69.32 L427.99 68.90 L431.12 68.48 L434.26 68.06 L437.39 67.64 L440.52 67.23 L443.66 66.83 L446.79 66.42 L449.92 66.01 L453.06 65.60 L456.19 65.20 L459.32 64.79 L462.46 64.39 L465.59 63.99 L468.72 63.59 L471.86 63.19 L474.99 62.80 L478.12 62.41 L481.26 62.02 L484.39 61.64 L487.52 61.26 L490.66 60.89 L493.79 60.52 L496.92 60.16 L500.06 59.81 L503.19 59.46 L506.32 59.12 L509.46 58.79 L512.59 58.46 L515.72 58.14 L518.85 57.83 L521.99 57.53 L525.12 57.23 L528.25 56.94 L531.39 56.66 L534.52 56.38 L537.65 56.11 L540.79 55.84 L543.92 55.58 L547.05 55.32 L550.19 55.07 L553.32 54.82 L556.45 54.57 L559.59 54.33 L562.72 54.09 L565.85 53.86 L568.99 53.62 L572.12 53.39 L575.25 53.16 L578.39 52.94 L581.52 52.71 L584.65 52.49 L587.79 52.27 L590.92 52.05 L594.05 51.83 L597.19 51.62 L600.32 51.41 L603.45 51.20 L606.59 51.00 L609.72 50.79 L612.85 50.59 L615.99 50.39 L619.12 50.19 L622.25 50.00 L625.39 49.81 L628.52 49.62 L631.65 49.44 L634.78 49.25 L637.92 49.07 L641.05 48.89 L644.18 48.72 L647.32 48.55 L650.45 48.38 L653.58 48.21 L656.72 48.05 L659.85 47.89 L662.98 47.73 L666.12 47.58 L669.25 47.43 L672.38 47.28 L675.52 47.13 L678.65 46.99 L681.78 46.85 L684.92 46.72 L688.05 46.59 L691.18 46.46 L694.32 46.33 L697.45 46.21" stroke="#ff0000" stroke-dasharray="4.1 2.168" stroke-dashoffset="0.6"/>
</g>
<g stroke="#333333" stroke-width="1" fill="none">
<rect x="70.8" y="13.25" width="626.65" height="387.10"/>
<g stroke-width="0.75" stroke="#222222">
<line x1="70.80" y1="400.35" x2="70.80" y2="393.95"/>
<line x1="70.80" y1="13.25" x2="70.80" y2="19.65"/>
<line x1="102.13" y1="400.35" x2="102.13" y2="396.25"/>
<line x1="102.13" y1="13.25" x2="102.13" y2="17.35"/>
<line x1="133.47" y1="400.35" x2="133.47" y2="396.25"/>
<line x1="133.47" y1="13.25" x2="133.47" y2="17.35"/>
<line x1="164.80" y1="400.35" x2="164.80" y2="396.25"/>
<line x1="164.80" y1="13.25" x2="164.80" y2="17.35"/>
<line x1="196.13" y1="400.35" x2="196.13" y2="393.95"/>
<line x1="196.13" y1="13.25" x2="196.13" y2="19.65"/>
<line x1="227.46" y1="400.35" x2="227.46" y2="396.25"/>
<line x1="227.46" y1="13.25" x2="227.46" y2="17.35"/>
<line x1="258.80" y1="400.35" x2="258.80" y2="396.25"/>
<line x1="258.80" y1="13.25" x2="258.80" y2="17.35"/>
<line x1="290.13" y1="400.35" x2="290.13" y2="396.25"/>
<line x1="290.13" y1="13.25" x2="290.13" y2="17.35"/>
<line x1="321.46" y1="400.35" x2="321.46" y2="393.95"/>
<line x1="321.46" y1="13.25" x2="321.46" y2="19.65"/>
<line x1="352.79" y1="400.35" x2="352.79" y2="396.25"/>
<line x1="352.79" y1="13.25" x2="352.79" y2="17.35"/>
<line x1="384.13" y1="400.35" x2="384.13" y2="396.25"/>
<line x1="384.13" y1="13.25" x2="384.13" y2="17.35"/>
<line x1="415.46" y1="400.35" x2="415.46" y2="396.25"/>
<line x1="415.46" y1="13.25" x2="415.46" y2="17.35"/>
<line x1="446.79" y1="400.35" x2="446.79" y2="393.95"/>
<line x1="446.79" y1="13.25" x2="446.79" y2="19.65"/>
<line x1="478.12" y1="400.35" x2="478.12" y2="396.25"/>
<line x1="478.12" y1="13.25" x2="478.12" y2="17.35"/>
<line x1="509.46" y1="400.35" x2="509.46" y2="396.25"/>
<line x1="509.46" y1="13.25" x2="509.46" y2="17.35"/>
<line x1="540.79" y1="400.35" x2="540.79" y2="396.25"/>
<line x1="540.79" y1="13.25" x2="540.79" y2="17.35"/>
<line x1="572.12" y1="400.35" x2="572.12" y2="393.95"/>
<line x1="572.12" y1="13.25" x2="572.12" y2="19.65"/>
<line x1="603.45" y1="400.35" x2="603.45" y2="396.25"/>
<line x1="603.45" y1="13.25" x2="603.45" y2="17.35"/>
<line x1="634.78" y1="400.35" x2="634.78" y2="396.25"/>
<line x1="634.78" y1="13.25" x2="634.78" y2="17.35"/>
<line x1="666.12" y1="400.35" x2="666.12" y2="396.25"/>
<line x1="666.12" y1="13.25" x2="666.12" y2="17.35"/>
<line x1="697.45" y1="400.35" x2="697.45" y2="393.95"/>
<line x1="697.45" y1="13.25" x2="697.45" y2="19.65"/>
<line x1="70.80" y1="400.35" x2="77.20" y2="400.35"/>
<line x1="697.45" y1="400.35" x2="691.05" y2="400.35"/>
<line x1="70.80" y1="381.00" x2="74.90" y2="381.00"/>
<line x1="697.45" y1="381.00" x2="693.35" y2="381.00"/>
<line x1="70.80" y1="361.64" x2="74.90" y2="361.64"/>
<line x1="697.45" y1="361.64" x2="693.35" y2="361.64"/>
<line x1="70.80" y1="342.29" x2="74.90" y2="342.29"/>
<line x1="697.45" y1="342.29" x2="693.35" y2="342.29"/>
<line x1="70.80" y1="322.93" x2="74.90" y2="322.93"/>
<line x1="697.45" y1="322.93" x2="693.35" y2="322.93"/>
<line x1="70.80" y1="303.58" x2="77.20" y2="303.58"/>
<line x1="697.45" y1="303.58" x2="691.05" y2="303.58"/>
<line x1="70.80" y1="284.22" x2="74.90" y2="284.22"/>
<line x1="697.45" y1="284.22" x2="693.35" y2="284.22"/>
<line x1="70.80" y1="264.87" x2="74.90" y2="264.87"/>
<line x1="697.45" y1="264.87" x2="693.35" y2="264.87"/>
<line x1="70.80" y1="245.51" x2="74.90" y2="245.51"/>
<line x1="697.45" y1="245.51" x2="693.35" y2="245.51"/>
<line x1="70.80" y1="226.16" x2="74.90" y2="226.16"/>
<line x1="697.45" y1="226.16" x2="693.35" y2="226.16"/>
<line x1="70.80" y1="206.80" x2="77.20" y2="206.80"/>
<line x1="697.45" y1="206.80" x2="691.05" y2="206.80"/>
<line x1="70.80" y1="187.44" x2="74.90" y2="187.44"/>
<line x1="697.45" y1="187.44" x2="693.35" y2="187.44"/>
<line x1="70.80" y1="168.09" x2="74.90" y2="168.09"/>
<line x1="697.45" y1="168.09" x2="693.35" y2="168.09"/>
<line x1="70.80" y1="148.74" x2="74.90" y2="148.74"/>
<line x1="697.45" y1="148.74" x2="693.35" y2="148.74"/>
<line x1="70.80" y1="129.38" x2="74.90" y2="129.38"/>
<line x1="697.45" y1="129.38" x2="693.35" y2="129.38"/>
<line x1="70.80" y1="110.03" x2="77.20" y2="110.03"/>
<line x1="697.45" y1="110.03" x2="691.05" y2="110.03"/>
<line x1="70.80" y1="90.67" x2="74.90" y2="90.67"/>
<line x1="697.45" y1="90.67" x2="693.35" y2="90.67"/>
<line x1="70.80" y1="71.31" x2="74.90" y2="71.31"/>
<line x1="697.45" y1="71.31" x2="693.35" y2="71.31"/>
<line x1="70.80" y1="51.96" x2="74.90" y2="51.96"/>
<line x1="697.45" y1="51.96" x2="693.35" y2="51.96"/>
<line x1="70.80" y1="32.61" x2="74.90" y2="32.61"/>
<line x1="697.45" y1="32.61" x2="693.35" y2="32.61"/>
<line x1="70.80" y1="13.25" x2="77.20" y2="13.25"/>
<line x1="697.45" y1="13.25" x2="691.05" y2="13.25"/>
</g>
</g>
<g style="filter:grayscale(1)">
<text transform="translate(63.7 408.40) rotate(0.03) scale(0.965 1.105)" text-anchor="end">110</text>
<text transform="translate(63.7 311.83) rotate(0.03) scale(0.965 1.105)" text-anchor="end">120</text>
<text transform="translate(63.7 214.85) rotate(0.03) scale(0.965 1.105)" text-anchor="end">130</text>
<text transform="translate(63.7 117.88) rotate(0.03) scale(0.965 1.105)" text-anchor="end">140</text>
<text transform="translate(63.7 20.80) rotate(0.03) scale(0.965 1.105)" text-anchor="end">150</text>
<text transform="translate(71.10 427.0) rotate(0.03) scale(1 1.07)" text-anchor="middle">4</text>
<text transform="translate(196.43 427.0) rotate(0.03) scale(1 1.07)" text-anchor="middle">6</text>
<text transform="translate(321.76 427.0) rotate(0.03) scale(1 1.07)" text-anchor="middle">8</text>
<text transform="translate(447.09 427.0) rotate(0.03) scale(1 1.07)" text-anchor="middle">10</text>
<text transform="translate(572.42 427.0) rotate(0.03) scale(1 1.07)" text-anchor="middle">12</text>
<text transform="translate(697.75 427.0) rotate(0.03) scale(1 1.07)" text-anchor="middle">14</text>
<text x="318.3" y="459.6" textLength="40.6" lengthAdjust="spacingAndGlyphs">Log(</text>
<text class="it" x="359.3" y="459.6" textLength="16.6" lengthAdjust="spacingAndGlyphs">M</text>
<text class="it" x="377.0" y="465.2" style="font-size:14.5px">S</text>
<text x="449.75" y="459.6" text-anchor="end" textLength="62.4" lengthAdjust="spacingAndGlyphs">/1GeV)</text>
<g transform="translate(19.0 246.3) rotate(-90)">
<text class="it" x="0" y="0" textLength="15.9" lengthAdjust="spacingAndGlyphs">m</text>
<text class="it" x="16.0" y="4" style="font-size:14.5px" textLength="8.5" lengthAdjust="spacingAndGlyphs">h</text>
<text x="25.5" y="-0.4" textLength="52.6" lengthAdjust="spacingAndGlyphs">(GeV)</text>
</g>
</g>
</svg>
</body></html>
